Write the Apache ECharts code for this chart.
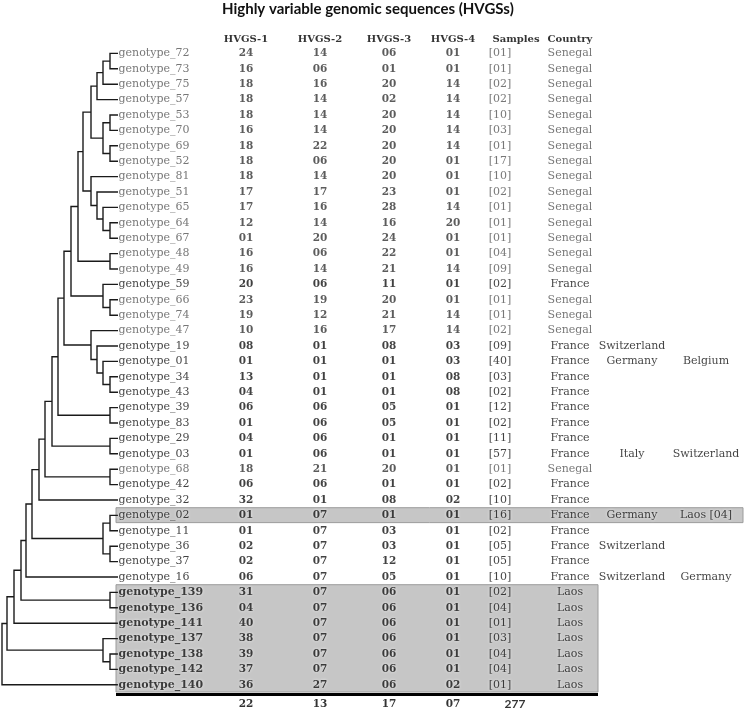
<!DOCTYPE html>
<html>
<head>
<meta charset="utf-8">
<title>HVGS dendrogram</title>
<script src="https://cdn.jsdelivr.net/npm/echarts@6/dist/echarts.min.js"></script>
<style>
  html, body { margin: 0; padding: 0; background: #fff; }
  #chart { width: 744px; height: 710px; }
</style>
</head>
<body>
<div id="chart"></div>
<script>
// leaves, top to bottom
const genotypes = ['genotype_72', 'genotype_73', 'genotype_75', 'genotype_57', 'genotype_53', 'genotype_70',
  'genotype_69', 'genotype_52', 'genotype_81', 'genotype_51', 'genotype_65', 'genotype_64', 'genotype_67',
  'genotype_48', 'genotype_49', 'genotype_59', 'genotype_66', 'genotype_74', 'genotype_47', 'genotype_19',
  'genotype_01', 'genotype_34', 'genotype_43', 'genotype_39', 'genotype_83', 'genotype_29', 'genotype_03',
  'genotype_68', 'genotype_42', 'genotype_32', 'genotype_02', 'genotype_11', 'genotype_36', 'genotype_37',
  'genotype_16', 'genotype_139', 'genotype_136', 'genotype_141', 'genotype_137', 'genotype_138',
  'genotype_142', 'genotype_140']
const hvgs1 = [24, 16, 18, 18, 18, 16, 18, 18, 18, 17, 17, 12, 1, 16, 16, 20, 23, 19, 10, 8, 1,
  13, 4, 6, 1, 4, 1, 18, 6, 32, 1, 1, 2, 2, 6, 31, 4, 40, 38, 39, 37, 36]
const hvgs2 = [14, 6, 16, 14, 14, 14, 22, 6, 14, 17, 16, 14, 20, 6, 14, 6, 19, 12, 16, 1, 1,
  1, 1, 6, 6, 6, 6, 21, 6, 1, 7, 7, 7, 7, 7, 7, 7, 7, 7, 7, 7, 27]
const hvgs3 = [6, 1, 20, 2, 20, 20, 20, 20, 20, 23, 28, 16, 24, 22, 21, 11, 20, 21, 17, 8, 1,
  1, 1, 5, 5, 1, 1, 20, 1, 8, 1, 3, 3, 12, 5, 6, 6, 6, 6, 6, 6, 6]
const hvgs4 = [1, 1, 14, 14, 14, 14, 14, 1, 1, 1, 14, 20, 1, 1, 14, 1, 1, 14, 14, 3, 3,
  8, 8, 1, 1, 1, 1, 1, 1, 2, 1, 1, 1, 1, 1, 1, 1, 1, 1, 1, 1, 2]
const samples = [1, 1, 2, 2, 10, 3, 1, 17, 10, 2, 1, 1, 1, 4, 9, 2, 1, 1, 2, 9, 40,
  3, 2, 12, 2, 11, 57, 1, 2, 10, 16, 2, 5, 5, 10, 2, 4, 1, 3, 4, 4, 1]
const S = ['Senegal'], F = ['France'], L = ['Laos']
const countries = [S, S, S, S, S, S, S, S, S, S, S, S, S, S, S, F, S, S, S,
  ['France', 'Switzerland'], ['France', 'Germany', 'Belgium'], F, F, F, F, F,
  ['France', 'Italy', 'Switzerland'], S, F, F, ['France', 'Germany', 'Laos [04]'], F,
  ['France', 'Switzerland'], F, ['France', 'Switzerland', 'Germany'], L, L, L, L, L, L, L]
const headers = ['HVGS-1', 'HVGS-2', 'HVGS-3', 'HVGS-4', 'Samples', 'Country']
const totals = [22, 13, 17, 7, 277]
// highlighted rows (first, last)
const bands = [[30, 30], [35, 41]]

// merges: [childA, childB, height]; leaves are 0..41, merge k gets id 42 + k
const merges = [
  [0, 1, 8], [42, 2, 15], [43, 3, 21], [4, 5, 8], [6, 7, 8], [45, 46, 15], [44, 47, 27],
  [11, 12, 8], [10, 49, 15], [9, 50, 21], [8, 51, 27], [48, 52, 35], [13, 14, 8], [53, 54, 40],
  [16, 17, 8], [15, 56, 15], [55, 57, 47], [21, 22, 8], [20, 59, 15], [19, 60, 21], [18, 61, 27],
  [58, 62, 54], [23, 24, 8], [63, 64, 60], [25, 26, 8], [65, 66, 66], [27, 28, 8], [67, 68, 73],
  [69, 29, 79], [30, 31, 8], [32, 33, 8], [71, 72, 15], [70, 73, 86], [74, 34, 92], [35, 36, 8],
  [75, 76, 97], [77, 37, 104], [39, 40, 8], [38, 79, 15], [78, 80, 111], [81, 41, 116]
]

// layout
const ROW_MIN = -1.5, ROW_MAX = 42.5
const gridTop = 30.3, gridHeight = 677.6
const colX = { name: 118, h: [246, 320, 389, 453], samples: 500, country: [570, 632, 706] }
const SERIF = '"DejaVu Serif", "Liberation Serif", serif'

// tree segments
const nodes = genotypes.map((g, i) => ({ h: 0, y: i }))
const treeLines = merges.map(([a, b, h]) => {
  const na = nodes[a], nb = nodes[b]
  nodes.push({ h: h, y: (na.y + nb.y) / 2 })
  return { coords: [[na.h, na.y], [h, na.y], [h, nb.y], [nb.h, nb.y]] }
})

const inBand = i => bands.some(([s, e]) => i >= s && i <= e)
const pad = v => String(v).padStart(2, '0')

function rowStyle(i, kind) {
  const c = countries[i][0]
  const st = { fontFamily: SERIF, fontSize: 11, color: '#111', fontWeight: 'normal' }
  if (c === 'Senegal') st.color = '#555'
  if (kind === 'num') { st.fontWeight = 'bold'; st.fontSize = 10.5; if (c === 'Senegal') st.color = '#333' }
  if (c === 'Laos' && kind === 'name') st.fontWeight = 'bold'
  if (inBand(i)) { st.textShadowColor = '#fff'; st.textShadowBlur = 3 }
  return st
}

function item(x, row, text, label) {
  return { value: [x, row], name: text, label: label }
}

function textSeries(data, position, extra) {
  return Object.assign({
    type: 'scatter',
    xAxisIndex: 1,
    yAxisIndex: 1,
    silent: true,
    symbolSize: 1,
    itemStyle: { color: 'rgba(0,0,0,0)' },
    label: { show: true, position: position, distance: 0, formatter: '{b}' },
    data: data
  }, extra || {})
}

// name column
const nameData = genotypes.map((g, i) => item(colX.name, i, g, rowStyle(i, 'name')))
// HVGS columns
const numData = []
;[hvgs1, hvgs2, hvgs3, hvgs4].forEach((arr, c) => {
  arr.forEach((v, i) => numData.push(item(colX.h[c], i, pad(v), rowStyle(i, 'num'))))
})
samples.forEach((v, i) => numData.push(item(colX.samples, i, '[' + pad(v) + ']', rowStyle(i, 'sample'))))
countries.forEach((list, i) => {
  list.forEach((c, k) => numData.push(item(colX.country[k], i, c, rowStyle(i, 'country'))))
})
// header and totals
const headStyle = { fontFamily: SERIF, fontSize: 10, fontWeight: 'bold', color: '#000' }
const headX = colX.h.concat([colX.samples + 16, colX.country[0]])
headers.forEach((h, k) => numData.push(item(headX[k], -0.92, h, headStyle)))
const totStyle = { fontFamily: SERIF, fontSize: 10.5, fontWeight: 'bold', color: '#000' }
totals.forEach((t, k) => {
  const x = k < 4 ? colX.h[k] : colX.samples + 15
  const st = k < 4 ? totStyle : { fontFamily: 'Lato, sans-serif', fontSize: 12, fontWeight: 'bold', color: '#000' }
  numData.push(item(x, 42.25, k < 4 ? pad(t) : String(t), st))
})

const bandRight = [743, 598]
const option = {
  animation: false,
  backgroundColor: '#fff',
  title: {
    text: 'Highly variable genomic sequences (HVGSs)',
    left: 222,
    top: 2,
    padding: 0,
    textStyle: { fontFamily: 'Lato, "Open Sans", sans-serif', fontSize: 15, fontWeight: 'bold', color: '#111' }
  },
  grid: [
    { left: 0, top: gridTop, width: 118, height: gridHeight },
    { left: 0, top: gridTop, width: 744, height: gridHeight }
  ],
  xAxis: [
    { type: 'value', gridIndex: 0, min: 0, max: 118, inverse: true, show: false },
    { type: 'value', gridIndex: 1, min: 0, max: 744, show: false }
  ],
  yAxis: [
    { type: 'value', gridIndex: 0, min: ROW_MIN, max: ROW_MAX, inverse: true, show: false },
    { type: 'value', gridIndex: 1, min: ROW_MIN, max: ROW_MAX, inverse: true, show: false }
  ],
  series: [
    textSeries([], 'inside', {
      markArea: {
        silent: true,
        itemStyle: { color: '#c6c6c6', borderColor: '#9c9c9c', borderWidth: 1 },
        data: bands.map(([s, e], k) => [
          { xAxis: 116, yAxis: s - 0.5 },
          { xAxis: bandRight[k], yAxis: e + 0.47 }
        ])
      },
      markLine: {
        silent: true,
        symbol: 'none',
        label: { show: false },
        lineStyle: { color: '#000', width: 3, type: 'solid' },
        data: [[{ xAxis: 116, yAxis: 41.62 }, { xAxis: 598, yAxis: 41.62 }]]
      }
    }),
    {
      type: 'lines',
      coordinateSystem: 'cartesian2d',
      xAxisIndex: 0,
      yAxisIndex: 0,
      polyline: true,
      silent: true,
      lineStyle: { color: '#1a1a1a', width: 1.4, opacity: 1 },
      data: treeLines
    },
    textSeries(nameData, 'right'),
    textSeries(numData, 'inside')
  ]
}

const chart = echarts.init(document.getElementById('chart'), null, { renderer: 'canvas' })
chart.setOption(option)
</script>
</body>
</html>
